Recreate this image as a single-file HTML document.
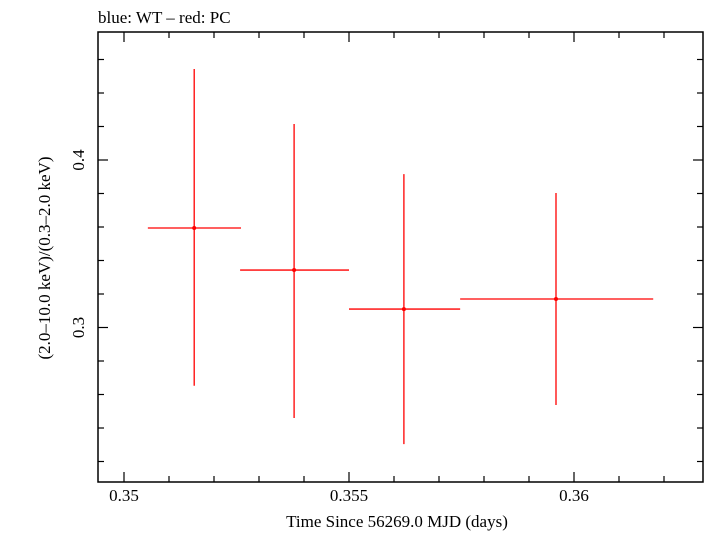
<!DOCTYPE html>
<html><head><meta charset="utf-8"><style>
body{margin:0;background:#fff;width:705px;height:532px;overflow:hidden}
svg text{font-family:"Liberation Serif",serif;fill:#000}
</style></head><body>
<svg id="c" width="705" height="532"></svg>
<script>
const xCenters=[0.35156,0.35378,0.35622,0.3596];
const xLow=[0.35053,0.35258,0.355,0.35747];
const xHigh=[0.3526,0.355,0.35747,0.36176];
const yValues=[0.3594,0.3343,0.311,0.317];
const yLow=[0.2652,0.2460,0.2304,0.2537];
const yHigh=[0.4543,0.4215,0.3916,0.3803];
const xTicks=[0.35,0.355,0.36];
const xTickLabels=["0.35","0.355","0.36"];
const yTicks=[0.3,0.4];
const yTickLabels=["0.3","0.4"];
const L=98,R=703,T=32,B=482;
const sx=v=>124+(v-0.35)*45000;
const sy=v=>160-(v-0.4)*1675;
const svg=document.getElementById('c');
const NS='http://www.w3.org/2000/svg';
function mk(t,a,p){const e=document.createElementNS(NS,t);for(const k in a)e.setAttribute(k,a[k]);(p||svg).appendChild(e);return e;}
const frame=mk('rect',{x:L,y:T,width:R-L,height:B-T,fill:'none',stroke:'#000','stroke-width':1.5});


// x ticks
for(let i=-1;i<=13;i++){const v=0.35+i*0.001;const x=sx(v);if(x<=L||x>=R)continue;const major=i%5===0;const len=major?10:6;
 const t1=mk('line',{x1:x,x2:x,y1:B,y2:B-len,stroke:'#000','stroke-width':1.2});
 const t2=mk('line',{x1:x,x2:x,y1:T,y2:T+len,stroke:'#000','stroke-width':1.2});}
xTicks.forEach((v,i)=>{const t=mk('text',{x:sx(v),y:501,'font-size':17,'text-anchor':'middle'});t.textContent=xTickLabels[i];});
// y ticks
for(let i=-10;i<=4;i++){const v=0.4+i*0.02;const y=sy(v);if(y<=T||y>=B)continue;const major=i%5===0;const len=major?10:6;
 const t1=mk('line',{x1:L,x2:L+len,y1:y,y2:y,stroke:'#000','stroke-width':1.2});
 const t2=mk('line',{x1:R,x2:R-len,y1:y,y2:y,stroke:'#000','stroke-width':1.2});}
yTicks.forEach((v,i)=>{const t=mk('text',{x:0,y:0,'font-size':17,'text-anchor':'middle',transform:`translate(84,${sy(v)}) rotate(-90)`});t.textContent=yTickLabels[i];});
// data
xCenters.forEach((xc,i)=>{const g=mk('g',{});
 mk('line',{x1:sx(xLow[i]),x2:sx(xHigh[i]),y1:sy(yValues[i]),y2:sy(yValues[i]),stroke:'#f00','stroke-width':1.3},g);
 mk('line',{x1:sx(xc),x2:sx(xc),y1:sy(yLow[i]),y2:sy(yHigh[i]),stroke:'#f00','stroke-width':1.3},g);
 mk('circle',{cx:sx(xc),cy:sy(yValues[i]),r:2,fill:'#f00'},g);});
const tt=mk('text',{x:98,y:23,'font-size':17});tt.textContent='blue: WT \u2013 red: PC';
const xl=mk('text',{x:397,y:527,'font-size':17,'text-anchor':'middle'});xl.textContent='Time Since 56269.0 MJD (days)';
const yl=mk('text',{x:0,y:0,'font-size':17,'text-anchor':'middle',transform:'translate(50,258) rotate(-90)'});yl.textContent='(2.0\u201310.0 keV)/(0.3\u20132.0 keV)';
</script>
</body></html>
